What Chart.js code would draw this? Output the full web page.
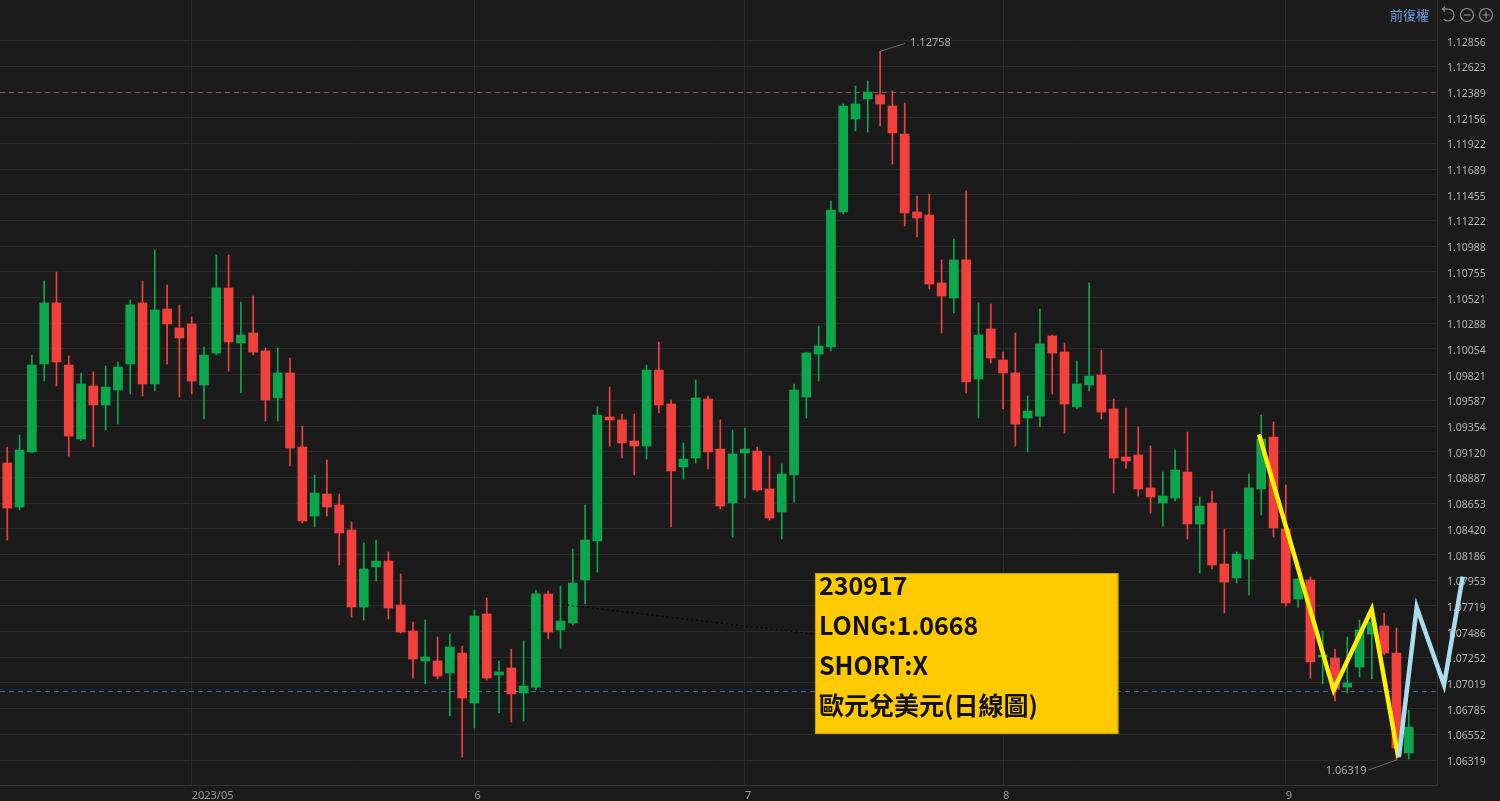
<!DOCTYPE html>
<html><head><meta charset="utf-8">
<script src="https://cdn.jsdelivr.net/npm/chart.js@4.4.1/dist/chart.umd.min.js"></script>
<style>
html,body{margin:0;padding:0;background:#1b1b1b;overflow:hidden;}
#wrap{position:relative;width:1500px;height:801px;}
canvas{display:block;}
</style></head>
<body><div id="wrap"><canvas id="c" width="1500" height="801"></canvas></div>
<script>
// ---- data (EUR/USD daily, Apr 2023 - 15 Sep 2023) ----
const opens = [1.09018,1.08618,1.09118,1.09918,1.10472,1.09908,1.09236,1.09718,1.09545,1.09681,
1.09918,1.10472,1.09736,1.10417,1.10245,1.10281,1.09727,1.10017,1.10608,1.10108,
1.10199,1.10036,1.09609,1.09836,1.09163,1.08536,1.08736,1.08636,1.08409,1.07709,
1.08073,1.08127,1.07728,1.07491,1.07219,1.07219,1.07110,1.07291,1.06837,1.07646,
1.07091,1.07155,1.06928,1.06982,1.07828,1.07500,1.07564,1.07955,1.08309,1.09436,
1.09409,1.09218,1.09172,1.09863,1.09554,1.08982,1.09063,1.09599,1.09145,1.08654,
1.09109,1.09127,1.08782,1.08573,1.08909,1.09618,1.10008,1.10072,1.11299,1.12144,
1.12326,1.12362,1.12262,1.12007,1.11299,1.11271,1.10654,1.10517,1.10863,1.09781,
1.10236,1.09954,1.09836,1.09427,1.09445,1.10172,1.10026,1.09527,1.09727,1.09818,
1.09509,1.09072,1.09091,1.08791,1.08654,1.08700,1.08936,1.08464,1.08654,1.08100,
1.07973,1.08145,1.08782,1.09254,1.08418,1.07782,1.07955,1.07255,1.07246,1.06982,
1.07164,1.07464,1.07537,1.07291,1.06383];
const highs = [1.09163,1.09272,1.09999,1.10672,1.10753,1.09990,1.09836,1.09845,1.09899,1.09936,
1.10499,1.10672,1.10953,1.10635,1.10454,1.10345,1.10072,1.10908,1.10908,1.10481,
1.10535,1.10063,1.10063,1.09972,1.09354,1.08909,1.09045,1.08736,1.08482,1.08291,
1.08318,1.08209,1.08009,1.07573,1.07591,1.07437,1.07464,1.07355,1.07682,1.07791,
1.07219,1.07328,1.07400,1.07864,1.07855,1.07900,1.08236,1.08636,1.09527,1.09708,
1.09463,1.09463,1.09908,1.10117,1.09590,1.09200,1.09772,1.09627,1.09409,1.09318,
1.09336,1.09163,1.09081,1.09009,1.09736,1.10026,1.10263,1.11399,1.12280,1.12444,
1.12489,1.12758,1.12398,1.12289,1.11444,1.11462,1.10863,1.11053,1.11490,1.10472,
1.10463,1.10026,1.10199,1.09627,1.10417,1.10181,1.10108,1.09945,1.10654,1.10045,
1.09599,1.09518,1.09345,1.09172,1.08936,1.09136,1.09300,1.08709,1.08763,1.08418,
1.08209,1.08918,1.09454,1.09390,1.08818,1.07973,1.07982,1.07491,1.07328,1.07437,
1.07591,1.07609,1.07655,1.07519,1.06773];
const lows = [1.08318,1.08591,1.09109,1.09763,1.09718,1.09081,1.09218,1.09163,1.09318,1.09372,
1.09645,1.09627,1.09672,1.09918,1.09618,1.09645,1.09418,1.09999,1.09854,1.09654,
1.09999,1.09400,1.09400,1.08991,1.08473,1.08436,1.08536,1.08091,1.07618,1.07591,
1.07946,1.07600,1.07473,1.07064,1.07010,1.07055,1.06719,1.06346,1.06610,1.07046,
1.06746,1.06664,1.06673,1.06955,1.07419,1.07337,1.07546,1.07737,1.08027,1.09172,
1.09063,1.08909,1.09054,1.09472,1.08436,1.08872,1.09018,1.08963,1.08600,1.08345,
1.08700,1.08763,1.08500,1.08327,1.08663,1.09427,1.09763,1.10036,1.11280,1.12035,
1.12026,1.12080,1.11735,1.11172,1.11072,1.10599,1.10199,1.10381,1.09654,1.09427,
1.09927,1.09509,1.09172,1.09118,1.09345,1.09645,1.09290,1.09509,1.09672,1.09418,
1.08745,1.08972,1.08718,1.08563,1.08445,1.08673,1.08327,1.08018,1.08055,1.07655,
1.07927,1.07818,1.08545,1.08345,1.07718,1.07709,1.07064,1.07010,1.06855,1.06928,
1.07073,1.07055,1.07273,1.06319,1.06328];
const closes = [1.08609,1.09136,1.09908,1.10472,1.09936,1.09263,1.09736,1.09545,1.09708,1.09890,
1.10454,1.09736,1.10408,1.10281,1.10154,1.09763,1.09999,1.10608,1.10117,1.10181,
1.10026,1.09590,1.09836,1.09154,1.08491,1.08745,1.08618,1.08382,1.07709,1.08055,
1.08127,1.07700,1.07482,1.07237,1.07255,1.07082,1.07346,1.06882,1.07628,1.07064,
1.07119,1.06919,1.06991,1.07828,1.07482,1.07582,1.07927,1.08318,1.09454,1.09409,
1.09200,1.09172,1.09863,1.09545,1.08945,1.09054,1.09609,1.09118,1.08627,1.09100,
1.09145,1.08773,1.08518,1.08918,1.09681,1.10017,1.10081,1.11317,1.12262,1.12280,
1.12389,1.12280,1.12017,1.11290,1.11244,1.10644,1.10535,1.10863,1.09754,1.10181,
1.09972,1.09836,1.09372,1.09490,1.10099,1.10017,1.09554,1.09736,1.09808,1.09481,
1.09063,1.09036,1.08782,1.08709,1.08718,1.08954,1.08464,1.08627,1.08091,1.07936,
1.08191,1.08791,1.09236,1.08427,1.07746,1.07964,1.07210,1.07273,1.06964,1.07019,
1.07500,1.07573,1.07291,1.06428,1.06619];

// month boundaries (candle index) and their labels
const monthTickIdx = [15, 38, 60, 81, 104];
const monthLabels = ['2023/05', '6', '7', '8', '9'];

// right-axis price ticks
const priceTicks = [1.06319,1.06552,1.06785,1.07019,1.07252,1.07486,1.07719,1.07953,1.08186,1.08420,
1.08653,1.08887,1.09120,1.09354,1.09587,1.09821,1.10054,1.10288,1.10521,1.10755,
1.10988,1.11222,1.11455,1.11689,1.11922,1.12156,1.12389,1.12623,1.12856];

// hand-drawn wave lines (candle index, price)
const yellowWave = [{x:101.82,y:1.09279},{x:107.89,y:1.06955},{x:110.99,y:1.07688},{x:113.16,y:1.06342}];
// listed from its right end back to where it starts
const blueWave   = [{x:118.39,y:1.07985},{x:116.87,y:1.07001},{x:114.65,y:1.07707},{x:113.2,y:1.06346}];

// reference lines
const refLineRed = 1.12389;
const refLineBlue = 1.06946;

// extremes
const maxPoint = {x:71, y:1.12758, label:'1.12758'};
const minPoint = {x:113, y:1.06319, label:'1.06319'};

// note
const noteLines = ['230917', 'LONG:1.0668', 'SHORT:X', '歐元兌美元(日線圖)'];
const noteBox = {x0:65.7, x1:90.38, yTop:1.08018, yBottom:1.06555};
const noteAnchor = {x:44.72, y:1.07737};

// ---- build ----
const UP = '#0ca64c', DOWN = '#f2413d';
const idx = opens.map((_, i) => i);
const candleColors = idx.map(i => closes[i] >= opens[i] ? UP : DOWN);

const noPad = s => { s.paddingTop = 0; s.paddingBottom = 0; s.paddingLeft = 0; s.paddingRight = 0; };

const overlay = {
  id: 'overlay',
  beforeDatasetsDraw(chart) {
    const {ctx, chartArea: a, scales: {y}} = chart;
    ctx.save();
    ctx.beginPath(); ctx.rect(a.left, a.top, a.width, a.height); ctx.clip();
    ctx.lineWidth = 1;
    ctx.setLineDash([5, 4]);
    let py = Math.round(y.getPixelForValue(refLineRed)) + 0.5;
    ctx.strokeStyle = '#8d5658';
    ctx.beginPath(); ctx.moveTo(a.left, py); ctx.lineTo(a.right, py); ctx.stroke();
    py = Math.round(y.getPixelForValue(refLineBlue)) + 0.5;
    ctx.strokeStyle = '#2a6fb0';
    ctx.beginPath(); ctx.moveTo(a.left, py); ctx.lineTo(a.right, py); ctx.stroke();
    ctx.restore();
  },
  afterDatasetsDraw(chart) {
    const {ctx, chartArea: a, scales: {x, y}} = chart;
    ctx.save();
    const bx0 = x.getPixelForValue(noteBox.x0), bx1 = x.getPixelForValue(noteBox.x1);
    const by0 = y.getPixelForValue(noteBox.yTop), by1 = y.getPixelForValue(noteBox.yBottom);
    // dotted leader
    ctx.setLineDash([2, 3]);
    ctx.strokeStyle = '#050505';
    ctx.lineWidth = 1.2;
    ctx.beginPath();
    ctx.moveTo(x.getPixelForValue(noteAnchor.x), y.getPixelForValue(noteAnchor.y));
    ctx.lineTo(bx0, by0 + (by1 - by0) * 0.38);
    ctx.stroke();
    ctx.setLineDash([]);
    // note box
    ctx.fillStyle = '#ffcb00';
    ctx.fillRect(bx0, by0, bx1 - bx0, by1 - by0);
    ctx.strokeStyle = '#c9a100';
    ctx.lineWidth = 1;
    ctx.strokeRect(bx0 + 0.5, by0 + 0.5, bx1 - bx0 - 1, by1 - by0 - 1);
    ctx.fillStyle = '#111';
    ctx.font = 'bold 25px "Noto Sans CJK TC", "Noto Sans", sans-serif';
    ctx.textBaseline = 'middle';
    ctx.textAlign = 'left';
    const lh = (by1 - by0) / noteLines.length;
    noteLines.forEach((t, i) => ctx.fillText(t, bx0 + 4, by0 + lh * (i + 0.3)));

    // extreme labels
    ctx.font = '11px "Noto Sans", sans-serif';
    ctx.fillStyle = '#a9a9a9';
    ctx.strokeStyle = '#6a6a6a';
    ctx.lineWidth = 1;
    let px = x.getPixelForValue(maxPoint.x), py = y.getPixelForValue(maxPoint.y);
    ctx.beginPath(); ctx.moveTo(px, py); ctx.lineTo(px + 25, py - 8); ctx.stroke();
    ctx.textAlign = 'left'; ctx.textBaseline = 'middle';
    ctx.fillText(maxPoint.label, px + 30, py - 9);
    px = x.getPixelForValue(minPoint.x); py = y.getPixelForValue(minPoint.y);
    ctx.beginPath(); ctx.moveTo(px, py); ctx.lineTo(px - 28, py + 10); ctx.stroke();
    ctx.textAlign = 'right';
    ctx.fillText(minPoint.label, px - 30, py + 11);

    // header controls (top right)
    ctx.font = '13px "Noto Sans CJK TC", sans-serif';
    ctx.fillStyle = '#6d9de0';
    ctx.textAlign = 'right'; ctx.textBaseline = 'middle';
    ctx.fillText('前復權', a.right - 8, 15);
    ctx.strokeStyle = '#8e8e8e'; ctx.lineWidth = 1.2;
    const cy = 15;
    let cx = a.right + 11;
    ctx.beginPath(); ctx.arc(cx, cy, 6, -Math.PI * 0.5, Math.PI * 0.75); ctx.stroke();
    ctx.beginPath(); ctx.moveTo(cx, cy - 6); ctx.lineTo(cx - 5, cy - 6); ctx.stroke();
    ctx.beginPath(); ctx.moveTo(cx - 3, cy - 8.5); ctx.lineTo(cx - 5.5, cy - 6); ctx.lineTo(cx - 3, cy - 3.5); ctx.stroke();
    cx = a.right + 30;
    ctx.beginPath(); ctx.arc(cx, cy, 6.5, 0, Math.PI * 2); ctx.stroke();
    ctx.beginPath(); ctx.moveTo(cx - 3.5, cy); ctx.lineTo(cx + 3.5, cy); ctx.stroke();
    cx = a.right + 49;
    ctx.beginPath(); ctx.arc(cx, cy, 6.5, 0, Math.PI * 2); ctx.stroke();
    ctx.beginPath(); ctx.moveTo(cx - 3.5, cy); ctx.lineTo(cx + 3.5, cy);
    ctx.moveTo(cx, cy - 3.5); ctx.lineTo(cx, cy + 3.5); ctx.stroke();
    ctx.restore();
  }
};

new Chart(document.getElementById('c'), {
  type: 'bar',
  data: {
    datasets: [
      {
        type: 'line', label: 'wave2', data: blueWave, borderColor: '#a9dcef', borderWidth: 4.5,
        pointRadius: 0, tension: 0, clip: false, order: -2, borderJoinStyle: 'miter', borderCapStyle: 'butt'
      },
      {
        type: 'line', label: 'wave1', data: yellowWave, borderColor: '#fff200', borderWidth: 4.5,
        pointRadius: 0, tension: 0, clip: false, order: -1, borderJoinStyle: 'miter', borderCapStyle: 'butt'
      },
      {
        label: 'body', data: idx.map(i => ({x: i, y: [opens[i], closes[i]]})),
        backgroundColor: candleColors, barThickness: 9, minBarLength: 1.5, grouped: false, order: 1, borderWidth: 0
      },
      {
        label: 'wick', data: idx.map(i => ({x: i, y: [lows[i], highs[i]]})),
        backgroundColor: candleColors, barThickness: 1, grouped: false, order: 2, borderWidth: 0
      }
    ]
  },
  options: {
    responsive: false,
    animation: false,
    events: [],
    layout: {padding: 0},
    plugins: {legend: {display: false}, tooltip: {enabled: false}},
    scales: {
      x: {
        type: 'linear', min: -0.594, max: 116.3, offset: false,
        afterBuildTicks: s => { s.ticks = monthTickIdx.map(v => ({value: v})); },
        afterFit: s => { s.height = 16; noPad(s); },
        ticks: {
          autoSkip: false, maxRotation: 0, align: 'start', padding: 4,
          color: '#9b9b9b', font: {size: 11, family: '"Noto Sans", sans-serif'},
          callback: (v, i) => monthLabels[i]
        },
        grid: {color: '#2a2a2a', drawTicks: false, offset: false},
        border: {color: '#333333'}
      },
      y: {
        position: 'right', min: 1.06092, max: 1.13225,
        afterBuildTicks: s => { s.ticks = priceTicks.map(v => ({value: v})); },
        afterFit: s => { s.width = 63; noPad(s); },
        ticks: {
          autoSkip: false, padding: 10, labelOffset: 2, color: '#b3b3b3',
          font: {size: 10.5, family: '"Noto Sans", sans-serif'},
          callback: v => Number(v).toFixed(5)
        },
        grid: {color: '#2a2a2a', drawTicks: false},
        border: {color: '#333333'}
      }
    }
  },
  plugins: [overlay]
});
</script>
</body></html>
